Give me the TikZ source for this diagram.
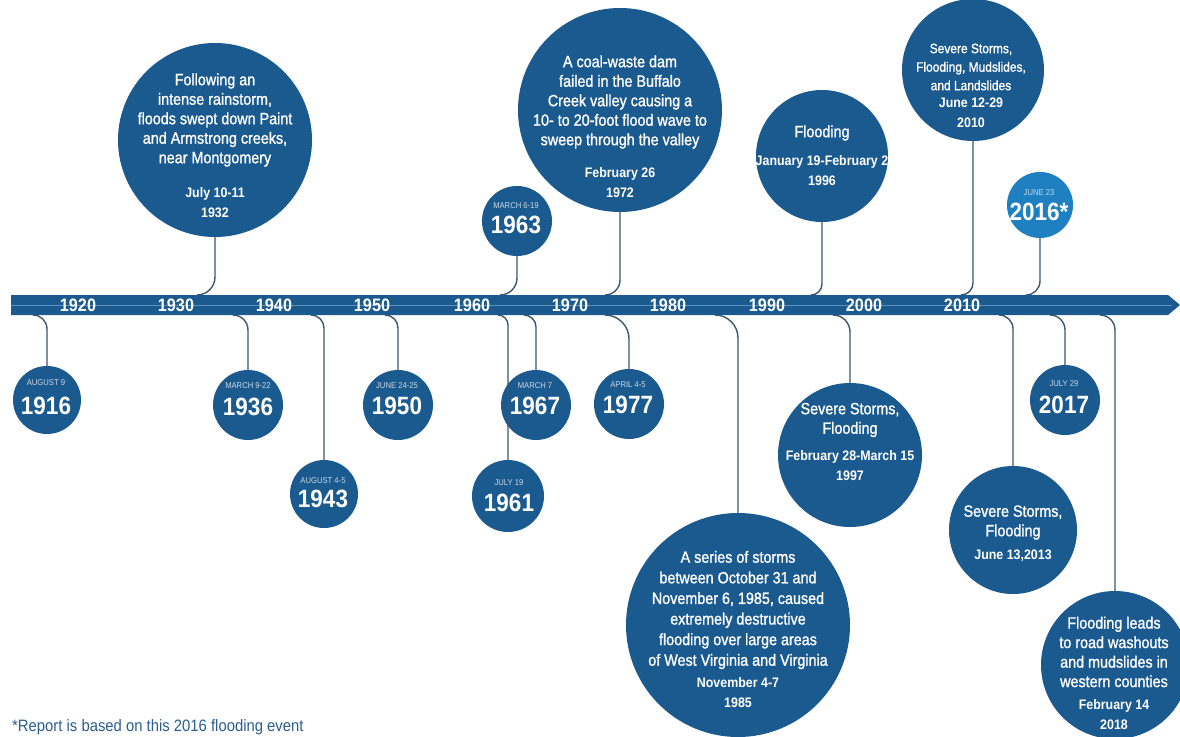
\documentclass[tikz,border=0pt]{standalone}
\usepackage{fontspec}
\setmainfont{Liberation Sans}
\newfontfamily\cf[FakeStretch=0.9]{Liberation Sans}
\newfontfamily\cfm[FakeStretch=0.88,FakeBold=1.2]{Liberation Sans}
\definecolor{barblue}{HTML}{1B5A8E}
\definecolor{lightblue}{HTML}{1E80C1}
\definecolor{connc}{HTML}{3A5670}
\definecolor{labc}{HTML}{C9D7E6}
\definecolor{midline}{HTML}{5D8FBF}
\definecolor{notec}{HTML}{2A5E90}
\tikzset{
  circ/.style={circle, fill=barblue, draw=none, inner sep=0pt, minimum size=#1},
  conn/.style={draw=connc, line width=1.4pt},
  body/.style={text=white, align=center, inner sep=0pt, font=\cfm\fontsize{16.3}{19.5}\selectfont},
  smallbody/.style={text=white, align=center, inner sep=0pt, font=\cfm\fontsize{13.6}{18.5}\selectfont},
  datetxt/.style={text=white, align=center, inner sep=0pt, font=\cf\bfseries\fontsize{13.8}{20}\selectfont},
  lab/.style={text=labc, inner sep=0pt, font=\cf\fontsize{8.5}{9}\selectfont},
  yr/.style={text=white, inner sep=0pt, font=\cf\bfseries\fontsize{25}{26}\selectfont},
  axislab/.style={text=white, inner sep=0pt, font=\cf\bfseries\fontsize{18}{18}\selectfont},
}
\begin{document}
\begin{tikzpicture}[x=1pt,y=1pt]
\useasboundingbox (0,0) rectangle (1180,-736);
\fill[white] (0,0) rectangle (1180,-736);

% circles
\node[circ=194pt] (c1932) at (215,-140) {};
\node[circ=204pt] (c1972) at (620,-110) {};
\node[circ=224pt] (c1985) at (738,-625) {};
\node[circ=132pt] (c1996) at (822,-156) {};
\node[circ=144pt] (c1997) at (850,-455) {};
\node[circ=142pt] (c2010) at (973,-70) {};
\node[circ=128pt] (c2013) at (1013,-530) {};
\node[circ=148pt] (c2018) at (1115,-665) {};
\node[circ=68pt] (c1916) at (47,-400) {};
\node[circ=70pt] (c1936) at (248,-405) {};
\node[circ=68pt] (c1943) at (324,-494) {};
\node[circ=70pt] (c1950) at (398,-405) {};
\node[circ=70pt] (c1963) at (517,-221) {};
\node[circ=72pt] (c1961) at (508,-496) {};
\node[circ=70pt] (c1967) at (536,-405) {};
\node[circ=70pt] (c1977) at (629,-404) {};
\node[circ=66pt, fill=lightblue] (c2016) at (1040,-205) {};
\node[circ=70pt] (c2017) at (1065,-400) {};

% connector start points on the bar and bend points
\foreach \n/\xa/\xb in {1932/197/215, 1963/500/517, 1972/605/620, 1996/811/822, 2010/961/973, 2016/1026/1040}{
  \coordinate (s\n) at (\xa,-295);
  \coordinate (k\n) at (\xb,-295+\xb-\xa);
}
\foreach \n/\xa/\xb in {1916/33/47, 1936/233/248, 1943/311/324, 1950/385/398, 1961/498/508, 1967/524/536, 1977/605/629, 1985/715/738, 1997/833/850, 2013/999/1013, 2017/1050/1065, 2018/1100/1115}{
  \coordinate (s\n) at (\xa,-315);
  \coordinate (k\n) at (\xb,-315-\xb+\xa);
}
\foreach \n in {1932,1963,1972,1996,2010,2016}{
  \draw[conn] (s\n) to[out=0,in=-90] (k\n) -- (c\n);
}
\foreach \n in {1916,1936,1943,1950,1961,1967,1977,1985,1997,2013,2017,2018}{
  \draw[conn] (s\n) to[out=0,in=90] (k\n) -- (c\n);
}

% bar
\fill[barblue] (11,-295) -- (1168,-295) -- (1180,-305) -- (1168,-315) -- (11,-315) -- cycle;
\draw[midline, line width=0.6pt] (11,-305) -- (1172,-305);
\foreach \t/\x in {1920/78,1930/176,1940/274,1950/372,1960/472,1970/570,1980/668,1990/767,2000/864,2010/962}{
  \node[axislab] (ax\t) at (\x,-305) {\t};
}

% big circle texts
\node[body] (b1932) at (215,-120) {Following an\\intense rainstorm,\\floods swept down Paint\\and Armstrong creeks,\\near Montgomery};
\node[datetxt] (d1932) at (215,-203) {July 10-11\\1932};
\node[body] (b1972) at (620,-102) {A coal-waste dam\\failed in the Buffalo\\Creek valley causing a\\10- to 20-foot flood wave to\\sweep through the valley};
\node[datetxt] (d1972) at (620,-183) {February 26\\1972};
\node[body, font=\cfm\fontsize{16.3}{20.6}\selectfont] (b1985) at (738,-610) {A series of storms\\between October 31 and\\November 6, 1985, caused\\extremely destructive\\flooding over large areas\\of West Virginia and Virginia};
\node[datetxt] (d1985) at (738,-693) {November 4-7\\1985};
\node[body] (b1996) at (822,-133) {Flooding};
\node[datetxt] (d1996) at (822,-170.5) {January 19-February 2\\1996};
\node[body] (b1997) at (850,-420) {Severe Storms,\\Flooding};
\node[datetxt] (d1997) at (850,-466) {February 28-March 15\\1997};
\node[smallbody] (b2010) at (971,-67) {Severe Storms,\\Flooding, Mudslides,\\and Landslides};
\node[datetxt] (d2010) at (971,-112.5) {June 12-29\\2010};
\node[body] (b2013) at (1013,-522.5) {Severe Storms,\\Flooding};
\node[datetxt] (d2013) at (1013,-556) {June 13,2013};
\node[body] (b2018) at (1114,-652) {Flooding leads\\to road washouts\\and mudslides in\\western counties};
\node[datetxt] (d2018) at (1114,-714.5) {February 14\\2018};

% small circle texts
\foreach \n/\x/\ly/\yy/\l in {1916/46/-383/-406/AUGUST 9, 1936/248/-386/-407/MARCH 9-22, 1943/323/-481/-499/AUGUST 4-5, 1950/397/-386/-406/JUNE 24-25, 1963/516/-206/-225/MARCH 6-19, 1961/509/-483/-503/JULY 19, 1967/535/-386/-406/MARCH 7, 1977/628/-385/-405/APRIL 4-5, 2017/1064/-384/-405/JULY 29}{
  \node[lab] (l\n) at (\x,\ly) {\l};
  \node[yr] (y\n) at (\x,\yy) {\n};
}
\node[lab] (l2016) at (1039,-193) {JUNE 23};
\node[yr] (y2016) at (1039,-212) {2016*};

% footnote
\node[anchor=base west, inner sep=0pt, text=notec, font=\cf\fontsize{16.5}{18}\selectfont] (note) at (12,-731) {*Report is based on this 2016 flooding event};
\end{tikzpicture}
\end{document}
